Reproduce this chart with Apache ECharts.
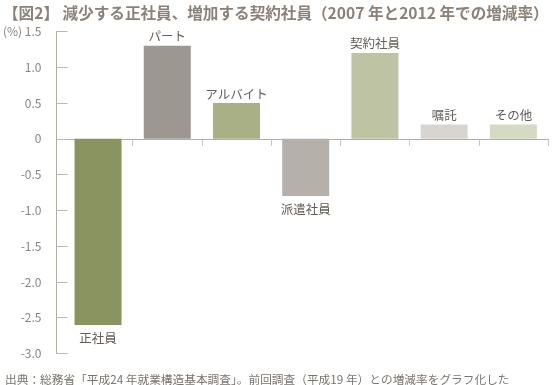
<!DOCTYPE html>
<html>
<head>
<meta charset="utf-8">
<script src="https://cdn.jsdelivr.net/npm/echarts@6/dist/echarts.min.js"></script>
<style>html,body{margin:0;padding:0;background:#fff;}#c{width:552px;height:385px;}</style>
</head>
<body>
<div id="c"></div>
<script>
const categories = ['正社員', 'パート', 'アルバイト', '派遣社員', '契約社員', '嘱託', 'その他'];
const values = [-2.6, 1.3, 0.5, -0.8, 1.2, 0.2, 0.2];
const barColors = ['#8a9461', '#9c9790', '#a9b085', '#b5b0aa', '#bdc3a3', '#d8d5d0', '#d5dac3'];
const yTicks = [-3.0, -2.5, -2.0, -1.5, -1.0, -0.5, 0, 0.5, 1.0, 1.5];
const titleText = '【図2】 減少する正社員、増加する契約社員（2007 年と2012 年での増減率）';
const sourceText = '出典：総務省「平成24 年就業構造基本調査」。前回調査（平成19 年）との増減率をグラフ化した';

const FONT = '"Noto Sans CJK JP", "Noto Sans", sans-serif';
const chart = echarts.init(document.getElementById('c'), null, {renderer: 'canvas'});

const boundaries = categories.slice(1).map((_, i) => i + 0.5).concat([categories.length - 0.5]);

chart.setOption({
  animation: false,
  backgroundColor: '#fff',
  textStyle: {fontFamily: FONT},
  title: [
    {text: titleText, left: -2, top: 0, textStyle: {fontFamily: FONT, fontSize: 15.6, fontWeight: 'bold', color: '#8b8178'}},
    {text: sourceText, left: 0, top: 369, textStyle: {fontFamily: FONT, fontSize: 11.7, fontWeight: 'normal', color: '#7a746e'}}
  ],
  grid: {left: 56, right: 4, top: 31.5, bottom: 31.5, containLabel: false},
  xAxis: {
    type: 'value',
    min: -0.6,
    max: categories.length - 0.5,
    axisLine: {show: true, onZero: true, lineStyle: {color: '#b3ada6', width: 1}},
    axisTick: {show: true, customValues: boundaries, length: 7, lineStyle: {color: '#c8c4bf'}},
    axisLabel: {show: false},
    splitLine: {show: false}
  },
  yAxis: {
    type: 'value',
    min: yTicks[0],
    max: yTicks[yTicks.length - 1],
    interval: 0.5,
    axisLine: {show: true, onZero: false, lineStyle: {color: '#b3ada6', width: 1}},
    axisTick: {show: true, inside: true, length: 11, lineStyle: {color: '#bdb8b2'}},
    splitLine: {show: false},
    axisLabel: {
      margin: 15,
      color: '#8a8580',
      fontSize: 12,
      fontFamily: FONT,
      formatter: function (v) {
        if (Math.abs(v) < 1e-9) return '0';
        const s = v.toFixed(1);
        return Math.abs(v - yTicks[yTicks.length - 1]) < 1e-9 ? '(%) ' + s : s;
      }
    }
  },
  series: [{
    type: 'bar',
    barWidth: 47,
    data: values.map((v, i) => ({
      value: [i, v],
      itemStyle: {color: barColors[i]},
      label: v >= 0 ? {position: 'top', distance: 3} : {position: 'bottom', distance: 7}
    })),
    label: {
      show: true,
      color: '#625d57',
      fontSize: 12.5,
      fontFamily: FONT,
      formatter: p => categories[p.dataIndex]
    }
  }]
});
</script>
</body>
</html>
